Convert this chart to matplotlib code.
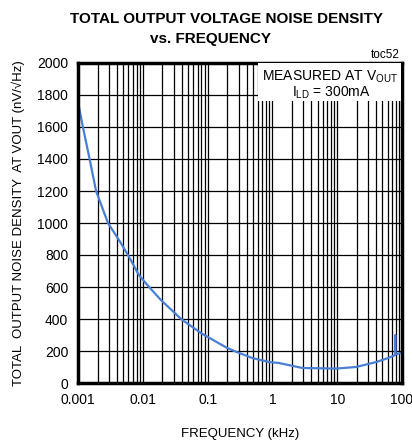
import matplotlib
matplotlib.use("Agg")
import numpy as np
import matplotlib.pyplot as plt
from matplotlib.patches import Rectangle
from matplotlib.ticker import FixedLocator, NullFormatter

plt.rcParams['font.family'] = ['Liberation Sans', 'DejaVu Sans']

# frequency (kHz) and noise density (nV/rtHz)
freq = [0.001, 0.00119, 0.00151, 0.0019, 0.0029, 0.0045, 0.0061, 0.0087,
        0.0125, 0.019, 0.039, 0.079, 0.2, 0.28, 0.49, 0.89, 1.26,
        2.9, 9.5, 19.5, 40, 60, 76, 78, 78.5, 79, 85, 100]
noise = [1756, 1600, 1400, 1200, 1000, 880, 790, 675,
         600, 519, 400, 312, 219, 194, 156, 131, 125,
         94, 90, 100, 131, 155, 172, 175, 300, 180, 182, 190]

xticks = [0.001, 0.01, 0.1, 1, 10, 100]
xticklabels = ["0.001", "0.01", "0.1", "1", "10", "100"]
yticks = list(range(0, 2001, 200))


def draw():
    W, H = 412, 440
    fig = plt.figure(figsize=(W / 100, H / 100), dpi=100)
    ax = fig.add_axes([78 / W, 1 - 383 / H, 324 / W, 320 / H])

    ax.plot(freq, noise, color="#4a80d4", lw=1.6, zorder=3)

    ax.set_xscale("log")
    ax.set_xlim(0.001, 100)
    ax.set_ylim(0, 2000)
    ax.set_xticks(xticks)
    ax.set_xticklabels(xticklabels)
    ax.set_yticks(yticks)
    minors = [m * 10.0 ** e for e in range(-3, 2) for m in range(2, 10)]
    ax.xaxis.set_minor_locator(FixedLocator(minors))
    ax.xaxis.set_minor_formatter(NullFormatter())
    ax.grid(which="both", axis="x", color="black", lw=0.9)
    ax.grid(which="major", axis="y", color="black", lw=0.9)
    ax.tick_params(which="both", length=0, labelsize=10, pad=7)
    for s in ax.spines.values():
        s.set_linewidth(2.5)
        s.set_zorder(5)

    ax.set_xlabel("FREQUENCY (kHz)", fontsize=9.5, labelpad=15)
    ax.set_ylabel("TOTAL  OUTPUT NOISE DENSITY  AT VOUT (nV/\u221aHz)",
                  fontsize=9.5, labelpad=9)

    fig.text(226 / W, 1 - 19 / H, "TOTAL OUTPUT VOLTAGE NOISE DENSITY",
             ha="center", va="center", fontsize=11, fontweight="bold")
    fig.text(210 / W, 1 - 39 / H, "vs. FREQUENCY",
             ha="center", va="center", fontsize=11, fontweight="bold")
    fig.text(400 / W, 1 - 55 / H, "toc52", ha="right", va="center", fontsize=8.5)

    # white legend box in the upper right
    box = Rectangle((258 / W, 1 - 101 / H), 143 / W, 38 / H, transform=fig.transFigure,
                    facecolor="white", edgecolor="none", zorder=4)
    fig.patches.append(box)
    fig.text(330 / W, 1 - 77 / H, "MEASURED AT V$_{\\mathregular{OUT}}$",
             ha="center", va="center", fontsize=10, zorder=6)
    fig.text(331 / W, 1 - 93 / H, "I$_{\\mathregular{LD}}$ = 300mA",
             ha="center", va="center", fontsize=10, zorder=6)

    fig.savefig("out.png")


draw()
